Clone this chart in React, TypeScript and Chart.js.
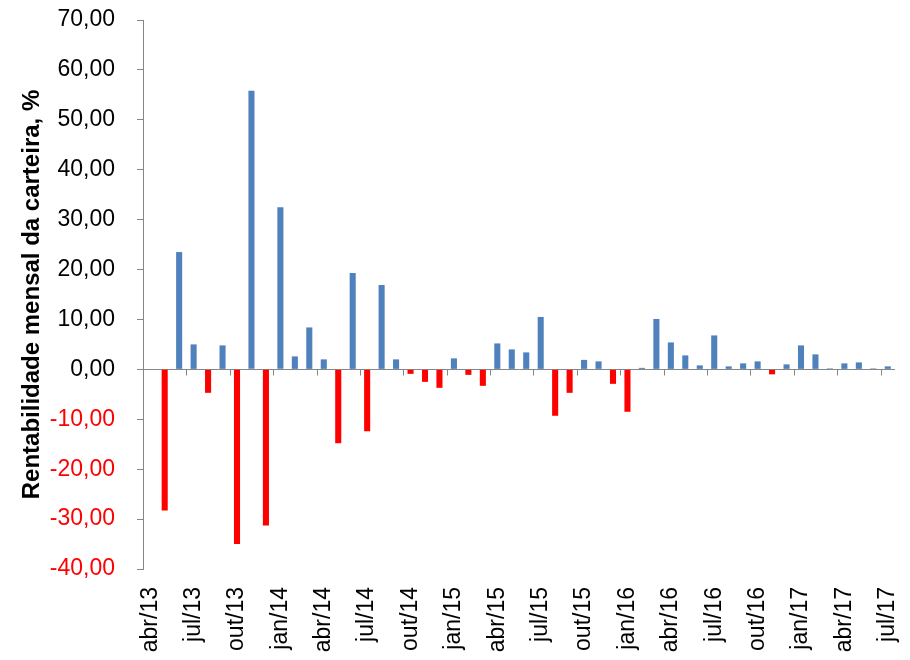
import { useEffect, useRef } from 'react';
import { Chart, ChartConfiguration, registerables } from 'chart.js';

Chart.register(...registerables);

const months: string[] = [
  'abr/13', 'mai/13', 'jun/13', 'jul/13', 'ago/13', 'set/13', 'out/13', 'nov/13', 'dez/13',
  'jan/14', 'fev/14', 'mar/14', 'abr/14', 'mai/14', 'jun/14', 'jul/14', 'ago/14', 'set/14', 'out/14', 'nov/14', 'dez/14',
  'jan/15', 'fev/15', 'mar/15', 'abr/15', 'mai/15', 'jun/15', 'jul/15', 'ago/15', 'set/15', 'out/15', 'nov/15', 'dez/15',
  'jan/16', 'fev/16', 'mar/16', 'abr/16', 'mai/16', 'jun/16', 'jul/16', 'ago/16', 'set/16', 'out/16', 'nov/16', 'dez/16',
  'jan/17', 'fev/17', 'mar/17', 'abr/17', 'mai/17', 'jun/17', 'jul/17',
];

// rentabilidade mensal, %
const returns: number[] = [
  0, -28.3, 23.5, 5.0, -4.7, 4.8, -35.0, 55.8, -31.3,
  32.5, 2.6, 8.4, 2.0, -14.8, 19.3, -12.4, 16.9, 2.0, -0.9, -2.5, -3.7,
  2.2, -1.1, -3.3, 5.2, 4.0, 3.4, 10.5, -9.3, -4.7, 1.9, 1.6, -2.9,
  -8.5, 0.3, 10.1, 5.4, 2.8, 0.8, 6.8, 0.6, 1.2, 1.6, -1.0, 1.0,
  4.8, 3.0, 0.2, 1.2, 1.4, 0.2, 0.6,
];

const yMin = -40;
const yMax = 70;
const yStep = 10;
const labelEvery = 3;

const blue = '#4F81BD';
const red = '#FF0000';
const axisGray = '#868686';
const font = 'Liberation Sans, Arial, sans-serif';

// marcas do eixo X desenhadas sobre a linha do zero
const zeroLineTicks = {
  id: 'zeroLineTicks',
  afterDatasetsDraw(chart: Chart) {
    const xs = chart.scales.x;
    const ys = chart.scales.y;
    const y0 = Math.round(ys.getPixelForValue(0)) + 0.5;
    const ctx = chart.ctx;
    ctx.save();
    ctx.strokeStyle = axisGray;
    ctx.lineWidth = 1;
    for (let i = labelEvery; i < months.length; i += labelEvery) {
      const px = Math.round(xs.getPixelForDecimal(i / months.length)) + 0.5;
      ctx.beginPath();
      ctx.moveTo(px, y0);
      ctx.lineTo(px, y0 + 6);
      ctx.stroke();
    }
    ctx.restore();
  },
};

export default function App() {
  const canvasRef = useRef<HTMLCanvasElement>(null);
  const chartRef = useRef<Chart | null>(null);

  useEffect(() => {
    if (!canvasRef.current) return;
    if (chartRef.current) chartRef.current.destroy();

    const config: ChartConfiguration = {
      type: 'bar',
      data: {
        labels: months,
        datasets: [
          {
            label: 'Rentabilidade mensal da carteira, %',
            data: returns,
            backgroundColor: returns.map(v => (v < 0 ? red : blue)),
            borderWidth: 0,
            categoryPercentage: 1,
            barPercentage: 0.42,
          },
        ],
      },
      options: {
        responsive: true,
        maintainAspectRatio: false,
        animation: false,
        layout: { padding: { top: 20, right: 15, bottom: 0, left: 0 } },
        plugins: {
          legend: { display: false },
          tooltip: { enabled: false },
        },
        scales: {
          x: {
            offset: true,
            grid: { display: false },
            border: { display: false },
            afterFit: (scale: any) => {
              scale.height = 91;
              scale.paddingLeft = 0;
              scale.paddingRight = 0;
            },
            ticks: {
              autoSkip: false,
              maxRotation: 90,
              minRotation: 90,
              padding: 10,
              color: '#000',
              font: { family: font, size: 23 },
              callback: function (this: any, value: any, index: number) {
                return index % labelEvery === 0 ? this.getLabelForValue(value) : '';
              },
            },
          },
          y: {
            min: yMin,
            max: yMax,
            afterFit: (scale: any) => {
              scale.width = 143;
              scale.paddingTop = 0;
              scale.paddingBottom = 0;
            },
            border: { display: true, color: axisGray, width: 1 },
            grid: {
              drawOnChartArea: true,
              color: (c: any) => (c.tick && c.tick.value === 0 ? axisGray : 'rgba(0,0,0,0)'),
              tickColor: axisGray,
              tickLength: 6,
            },
            ticks: {
              stepSize: yStep,
              padding: 22,
              color: (c: any) => (c.tick && c.tick.value < 0 ? red : '#000'),
              font: { family: font, size: 23 },
              callback: (v: any) => Number(v).toFixed(2).replace('.', ','),
            },
            title: {
              display: true,
              text: 'Rentabilidade mensal da carteira, %',
              color: '#000',
              font: { family: font, size: 24, weight: 'bold' },
              padding: { top: 18, bottom: 4 },
            },
          },
        },
      },
      plugins: [zeroLineTicks],
    };

    chartRef.current = new Chart(canvasRef.current, config);

    return () => {
      if (chartRef.current) {
        chartRef.current.destroy();
        chartRef.current = null;
      }
    };
  }, []);

  return (
    <div style={{ position: 'fixed', left: 0, top: 0, width: 910, height: 660, background: '#fff' }}>
      <canvas ref={canvasRef}></canvas>
    </div>
  );
}
